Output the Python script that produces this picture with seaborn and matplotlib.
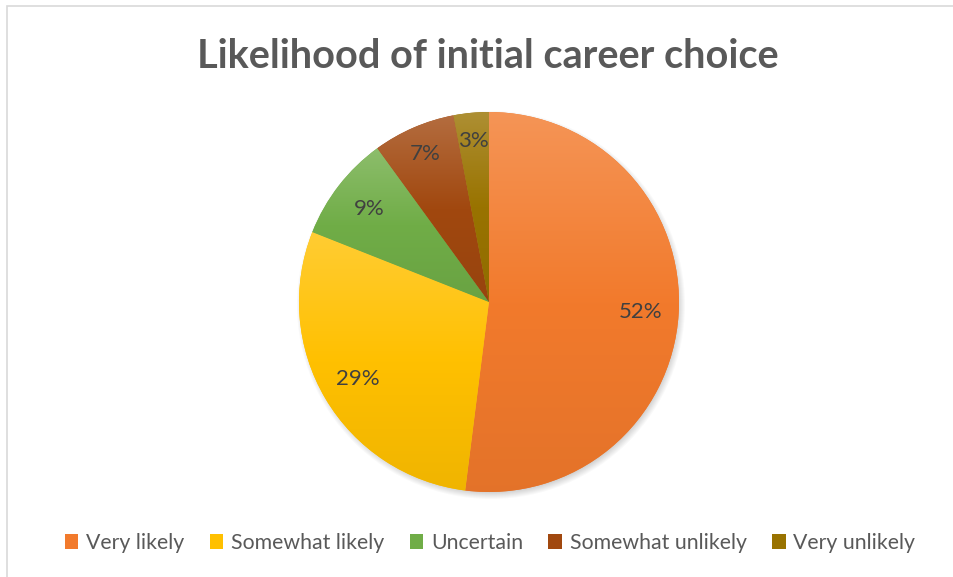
import numpy as np
import matplotlib
matplotlib.use("Agg")
import matplotlib.pyplot as plt
from matplotlib.patches import Circle, Rectangle, Patch
from matplotlib.colors import to_rgb
import seaborn as sns

categories = ["Very likely", "Somewhat likely", "Uncertain", "Somewhat unlikely", "Very unlikely"]
shares = [52, 29, 9, 7, 3]
base_colors = ["#F27A2C", "#FFC000", "#70AD47", "#A1480F", "#997300"]
title = "Likelihood of initial career choice"

sns.set_theme(style="white")
plt.rcParams["font.family"] = ["Lato", "DejaVu Sans"]

W, H = 954, 577
fig = plt.figure(figsize=(W / 100, H / 100), dpi=100)
fig.patch.set_facecolor("white")
ax = fig.add_axes([0, 0, 1, 1])

cx, cy, R = 489, H - 302, 190

# soft drop shadow under the pie
for i in range(8):
    ax.add_patch(Circle((cx + 2, cy - 3), R + 4 - i, color="black", alpha=0.025,
                        lw=0, zorder=1))

palette = sns.color_palette(base_colors)
wedges, _ = ax.pie(shares, colors=palette, startangle=90, counterclock=False,
                   center=(cx, cy), radius=R, frame=True,
                   wedgeprops=dict(linewidth=0, zorder=2))

# vertical gradient inside each slice: tint at top, base in the middle, shade at bottom
t = np.linspace(0, 1, 256)[:, None]
for w, c in zip(wedges, palette):
    v = w.get_path().vertices
    x0, x1 = v[:, 0].min(), v[:, 0].max()
    y0, y1 = v[:, 1].min(), v[:, 1].max()
    c = np.array(to_rgb(c))
    top = c + (1 - c) * 0.2
    bot = c * 0.94
    upper = top * (1 - 2 * t) + c * (2 * t)
    lower = c * (2 - 2 * t) + bot * (2 * t - 1)
    grad = np.where(t < 0.5, upper, lower)
    img = ax.imshow(grad[:, None, :], extent=(x0, x1, y0, y1), origin="upper",
                    aspect="auto", interpolation="bilinear", zorder=3)
    img.set_clip_path(w)

# percentage labels inside the slices (small slices pushed a bit outward)
cum = 0
for share in shares:
    mid = np.deg2rad(90 - (cum + share / 2) * 3.6)
    cum += share
    d = (0.80 if share > 8 else 0.85) * R
    ax.text(cx + d * np.cos(mid), cy + d * np.sin(mid), f"{share}%",
            ha="center", va="center", fontsize=16, color="#404040", zorder=5)

ax.set_xlim(0, W)
ax.set_ylim(0, H)
ax.set_aspect("equal")
ax.axis("off")

fig.text(488 / W, 1 - 56 / H, title, ha="center", va="center",
         fontsize=28.5, fontweight="bold", color="#595959")

handles = [Patch(facecolor=c, edgecolor="none") for c in palette]
fig.legend(handles, categories, loc="center", bbox_to_anchor=(490 / W, 1 - 543 / H),
           ncol=5, frameon=False, fontsize=15.3, labelcolor="#595959",
           handlelength=0.65, handleheight=0.65, handletextpad=0.35,
           columnspacing=1.2)

# chart area border
fig.patches.append(Rectangle((7 / W, -0.05), 1.1, 1 - 6 / H + 0.05,
                             transform=fig.transFigure, fill=False,
                             edgecolor="#D9D9D9", lw=1.2))

fig.savefig("out.png", dpi=100)
